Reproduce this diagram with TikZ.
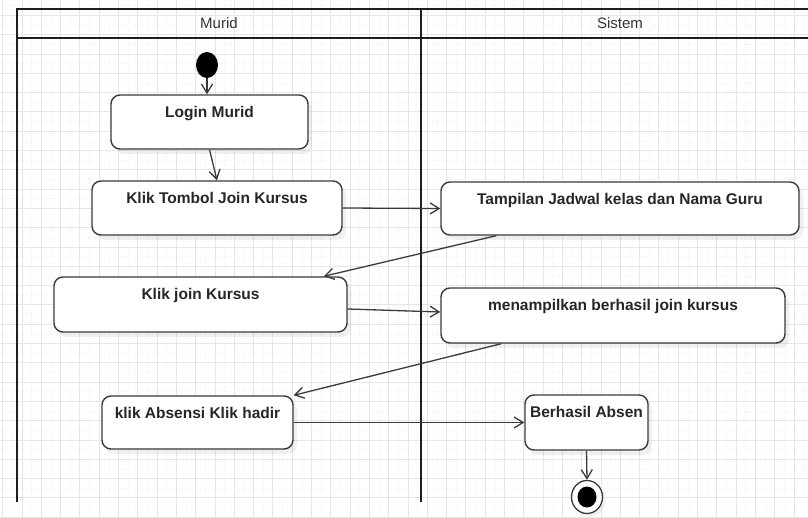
\documentclass[tikz,border=0pt]{standalone}
\usepackage{fontspec}
\setmainfont{Liberation Sans}
\usetikzlibrary{positioning,calc,arrows.meta,shadows,shapes.geometric}
\definecolor{gridln}{HTML}{E6E6E6}
\definecolor{gridmin}{HTML}{F0F0F0}
\definecolor{boxln}{HTML}{3A3A3A}
\definecolor{laneln}{HTML}{1E1E1E}
\tikzset{
  act/.style={draw=boxln, line width=1.4pt, rounded corners=9pt, fill=white,
    minimum width=#1, minimum height=54pt, inner sep=0pt,
    drop shadow={shadow xshift=4pt, shadow yshift=-5pt, opacity=0.12}},
  act/.default=200pt,
  acttext/.style={anchor=north, yshift=-8pt, text=black!85,
    font=\bfseries\fontsize{15.5}{18}\selectfont},
  lanehead/.style={font=\fontsize{15}{17}\selectfont, text=black!80},
  lane/.style={line width=2.4pt, draw=laneln},
  flow/.style={line width=1.3pt, draw=boxln,
    -{Straight Barb[length=9pt, width=11pt, line width=1.3pt]}},
}

\begin{document}
\begin{tikzpicture}[x=1pt, y=-1pt]

\clip (0,0) rectangle (808,518);

% ===== grid =====
\foreach \i in {0,...,42}
  { \draw[gridmin, line width=0.6pt, dotted] ({12.35+19.3*\i},0) -- ++(0,518);
    \draw[gridln, line width=0.9pt] ({2.7+19.3*\i},0) -- ++(0,518); }
\foreach \j in {0,...,27}
  { \draw[gridmin, line width=0.6pt, dotted] (0,{5.75+19.3*\j}) -- ++(808,0);
    \draw[gridln, line width=0.9pt] (0,{15.4+19.3*\j}) -- ++(808,0); }

% ===== swimlanes =====
\draw[lane] (830,9) -- (17,9) -- (17,502);
\draw[lane] (17,38) -- (830,38);
\draw[lane] (421,9) -- (421,502);
\node[lanehead] (murid) at (219,23) {Murid};
\node[lanehead] (sistem) at (620,23) {Sistem};

% ===== Murid =====
\node[ellipse, fill=black, minimum width=22pt, minimum height=26pt, inner sep=0pt] (start) at (207,65) {};
\node[act=197pt] (login) at (209.5,122) {};
\node[acttext] (logintx) at (login.north) {Login Murid};
\node[act=250pt] (tombol) at (217,208) {};
\node[acttext] (tomboltx) at (tombol.north) {Klik Tombol Join Kursus};
\node[act=293pt, minimum height=55pt] (join) at (200.5,304.5) {};
\node[acttext] (jointx) at (join.north) {Klik join Kursus};
\node[act=191pt, minimum height=53pt] (absen) at (197.5,422.5) {};
\node[acttext] (absentx) at (absen.north) {klik Absensi Klik hadir};

% ===== Sistem =====
\node[act=358pt, minimum height=53pt] (jadwal) at (620,208.5) {};
\node[acttext] (jadwaltx) at (jadwal.north) {Tampilan Jadwal kelas dan Nama Guru};
\node[act=344pt, minimum height=55pt] (tampil) at (613,315.5) {};
\node[acttext] (tampiltx) at (tampil.north) {menampilkan berhasil join kursus};
\node[act=123pt, minimum height=55pt] (hasil) at (586.5,422.5) {};
\node[acttext] (hasiltx) at (hasil.north) {Berhasil Absen};
\node[ellipse, draw=boxln, line width=1.3pt, fill=white, minimum width=31pt, minimum height=33pt, inner sep=0pt,
  drop shadow={shadow xshift=3pt, shadow yshift=-3pt, opacity=0.12}] (stop) at (587,497) {};
\node[ellipse, fill=black, minimum width=19pt, minimum height=21pt, inner sep=0pt] (stopdot) at (stop) {};

% ===== flows =====
\draw[flow] (start) -- (start |- login.north);
\draw[flow] (login.south) -- (tombol.north);
\draw[flow] (tombol.east) -- (jadwal.west);
\draw[flow] ([xshift=56pt]jadwal.south west) -- ([xshift=-24pt]join.north east);   % jadwal -> join
\draw[flow] ([yshift=-4.5pt]join.east) -- ([yshift=3.5pt]tampil.west);
\draw[flow] ([xshift=61pt]tampil.south west) -- (absen.north east);                % tampil -> absen
\draw[flow] (absen.east) -- (hasil.west);
\draw[flow] (hasil.south) -- (stop.north);

\end{tikzpicture}
\end{document}
